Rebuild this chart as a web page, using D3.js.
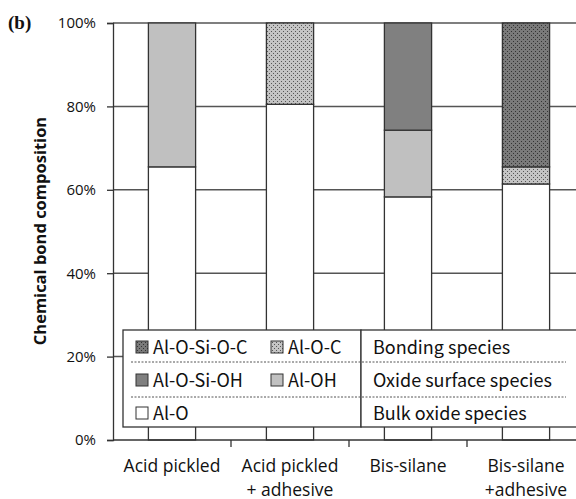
<!DOCTYPE html>
<html>
<head>
<meta charset="utf-8">
<script src="https://cdn.jsdelivr.net/npm/d3@7"></script>
<style>
  body { margin: 0; background: #fff; }
  svg text { font-family: "Noto Sans CJK JP", "Open Sans", sans-serif; fill: #111; }
</style>
</head>
<body>
<svg id="chart" width="576" height="499"></svg>
<script>
// categories and series (percent of composition)
var categories = ["Acid pickled", "Acid pickled\n+ adhesive", "Bis-silane", "Bis-silane\n+adhesive"];
var alO       = [65.5, 80.5, 58.3, 61.4];
var alOH      = [34.5, 0, 16.0, 0];
var alOSiOH   = [0, 0, 25.7, 0];
var alOC      = [0, 19.5, 0, 4.1];
var alOSiOC   = [0, 0, 0, 34.5];
var seriesNames = ["Al-O", "Al-OH", "Al-O-Si-OH", "Al-O-C", "Al-O-Si-O-C"];
var yTicks = [0, 20, 40, 60, 80, 100];

var svg = d3.select("#chart");
var pLeft = 113, pRight = 585, pTop = 23, pBottom = 440;

// patterns for the dotted fills
var defs = svg.append("defs");
function dots(id, bg, dot) {
    var p = defs.append("pattern").attr("id", id)
        .attr("width", 4).attr("height", 4).attr("patternUnits", "userSpaceOnUse");
    p.append("rect").attr("width", 4).attr("height", 4).attr("fill", bg);
    p.append("rect").attr("x", 1).attr("y", 1).attr("width", 1).attr("height", 1).attr("fill", dot);
    p.append("rect").attr("x", 3).attr("y", 3).attr("width", 1).attr("height", 1).attr("fill", dot);
}
dots("pOC", "#c4c4c4", "#555");
dots("pOSiOC", "#7a7a7a", "#333");

var fills = {"Al-O": "#ffffff", "Al-OH": "#c0c0c0", "Al-O-Si-OH": "#808080",
             "Al-O-C": "url(#pOC)", "Al-O-Si-O-C": "url(#pOSiOC)"};

var x = d3.scaleBand().domain(categories).range([pLeft, pRight])
    .paddingInner(0.6).paddingOuter(0.3);
var y = d3.scaleLinear().domain([0, 100]).range([pBottom, pTop]);

// gridlines
svg.append("g").selectAll("line").data(yTicks.filter(d => d > 0)).join("line")
    .attr("x1", pLeft).attr("x2", 576)
    .attr("y1", d => y(d)).attr("y2", d => y(d))
    .attr("stroke", "#555").attr("stroke-width", 1.5);

// stacked bars
var table = categories.map(function (c, i) {
    return {cat: c, "Al-O": alO[i], "Al-OH": alOH[i], "Al-O-Si-OH": alOSiOH[i],
            "Al-O-C": alOC[i], "Al-O-Si-O-C": alOSiOC[i]};
});
var stack = d3.stack().keys(seriesNames)(table);
svg.append("g").selectAll("g").data(stack).join("g")
    .attr("fill", d => fills[d.key])
    .selectAll("rect").data(d => d.filter(v => v[1] - v[0] > 0)).join("rect")
    .attr("x", d => x(d.data.cat)).attr("width", x.bandwidth())
    .attr("y", d => y(d[1])).attr("height", d => y(d[0]) - y(d[1]))
    .attr("stroke", "#333").attr("stroke-width", 1.3);

// y axis
var yAxis = svg.append("g").attr("transform", "translate(" + pLeft + ",0)")
    .call(d3.axisLeft(y).tickValues(yTicks).tickSize(6).tickPadding(11)
          .tickFormat(d => d + "%"));
yAxis.select(".domain").attr("stroke", "#333").attr("stroke-width", 1.3);
yAxis.selectAll(".tick line").attr("stroke", "#333").attr("stroke-width", 1.3);
yAxis.selectAll("text").style("font-size", "15px")
    .style("font-family", "'Open Sans', sans-serif").attr("fill", "#111");

// x axis baseline and boundary ticks
svg.append("line").attr("x1", pLeft).attr("x2", 576)
    .attr("y1", pBottom).attr("y2", pBottom).attr("stroke", "#333").attr("stroke-width", 1.3);
svg.append("g").selectAll("line").data(categories.slice(1)).join("line")
    .attr("x1", d => x(d) - x.step() * x.paddingInner() / 2)
    .attr("x2", d => x(d) - x.step() * x.paddingInner() / 2)
    .attr("y1", pBottom).attr("y2", pBottom + 7)
    .attr("stroke", "#333").attr("stroke-width", 1.3);

// category labels
svg.append("g").selectAll("text").data(categories).join("text")
    .attr("x", d => x(d) + x.bandwidth() / 2).attr("y", 472)
    .attr("text-anchor", "middle")
    .style("font-family", "'Open Sans', sans-serif").style("font-size", "17.5px")
    .each(function (d) {
        var t = d3.select(this);
        d.split("\n").forEach(function (s, i) {
            t.append("tspan").attr("x", x(d) + x.bandwidth() / 2)
                .attr("dy", i === 0 ? 0 : 24).text(s);
        });
    });

// axis title
svg.append("text").attr("transform", "translate(46,231) rotate(-90)")
    .attr("text-anchor", "middle")
    .style("font-family", "'Open Sans', sans-serif").style("font-size", "16.5px")
    .style("font-weight", "bold").text("Chemical bond composition");

svg.append("text").attr("x", 8).attr("y", 29)
    .style("font-family", "'Liberation Serif', serif").style("font-size", "19px")
    .style("font-weight", "bold").text("(b)");

// legend
var lg = svg.append("g");
lg.append("rect").attr("x", 123).attr("y", 330).attr("width", 238).attr("height", 97)
    .attr("fill", "#fff").attr("stroke", "#333").attr("stroke-width", 1.3);
lg.append("rect").attr("x", 361).attr("y", 330).attr("width", 220).attr("height", 97)
    .attr("fill", "#fff").attr("stroke", "#333").attr("stroke-width", 1.3);
[362, 397].forEach(function (yy) {
    lg.append("line").attr("x1", 131).attr("x2", 566).attr("y1", yy).attr("y2", yy)
        .attr("stroke", "#555").attr("stroke-dasharray", "2,1.5").attr("stroke-width", 1);
});
var legendItems = [
    {name: "Al-O-Si-O-C", col: 0, row: 0}, {name: "Al-O-C", col: 1, row: 0},
    {name: "Al-O-Si-OH", col: 0, row: 1}, {name: "Al-OH", col: 1, row: 1},
    {name: "Al-O", col: 0, row: 2}
];
var li = lg.selectAll("g.item").data(legendItems).join("g")
    .attr("transform", d => "translate(" + (136 + d.col * 135) + "," + (341 + d.row * 33) + ")");
li.append("rect").attr("width", 12).attr("height", 12)
    .attr("fill", d => fills[d.name]).attr("stroke", "#333").attr("stroke-width", 1);
li.append("text").attr("x", 17).attr("y", 12.5).style("font-size", "18px").text(d => d.name);

var groups = ["Bonding species", "Oxide surface species", "Bulk oxide species"];
lg.selectAll("text.grp").data(groups).join("text").attr("class", "grp")
    .attr("x", 373).attr("y", (d, i) => 354 + i * 33)
    .style("font-size", "18px").text(d => d);
</script>
</body>
</html>
